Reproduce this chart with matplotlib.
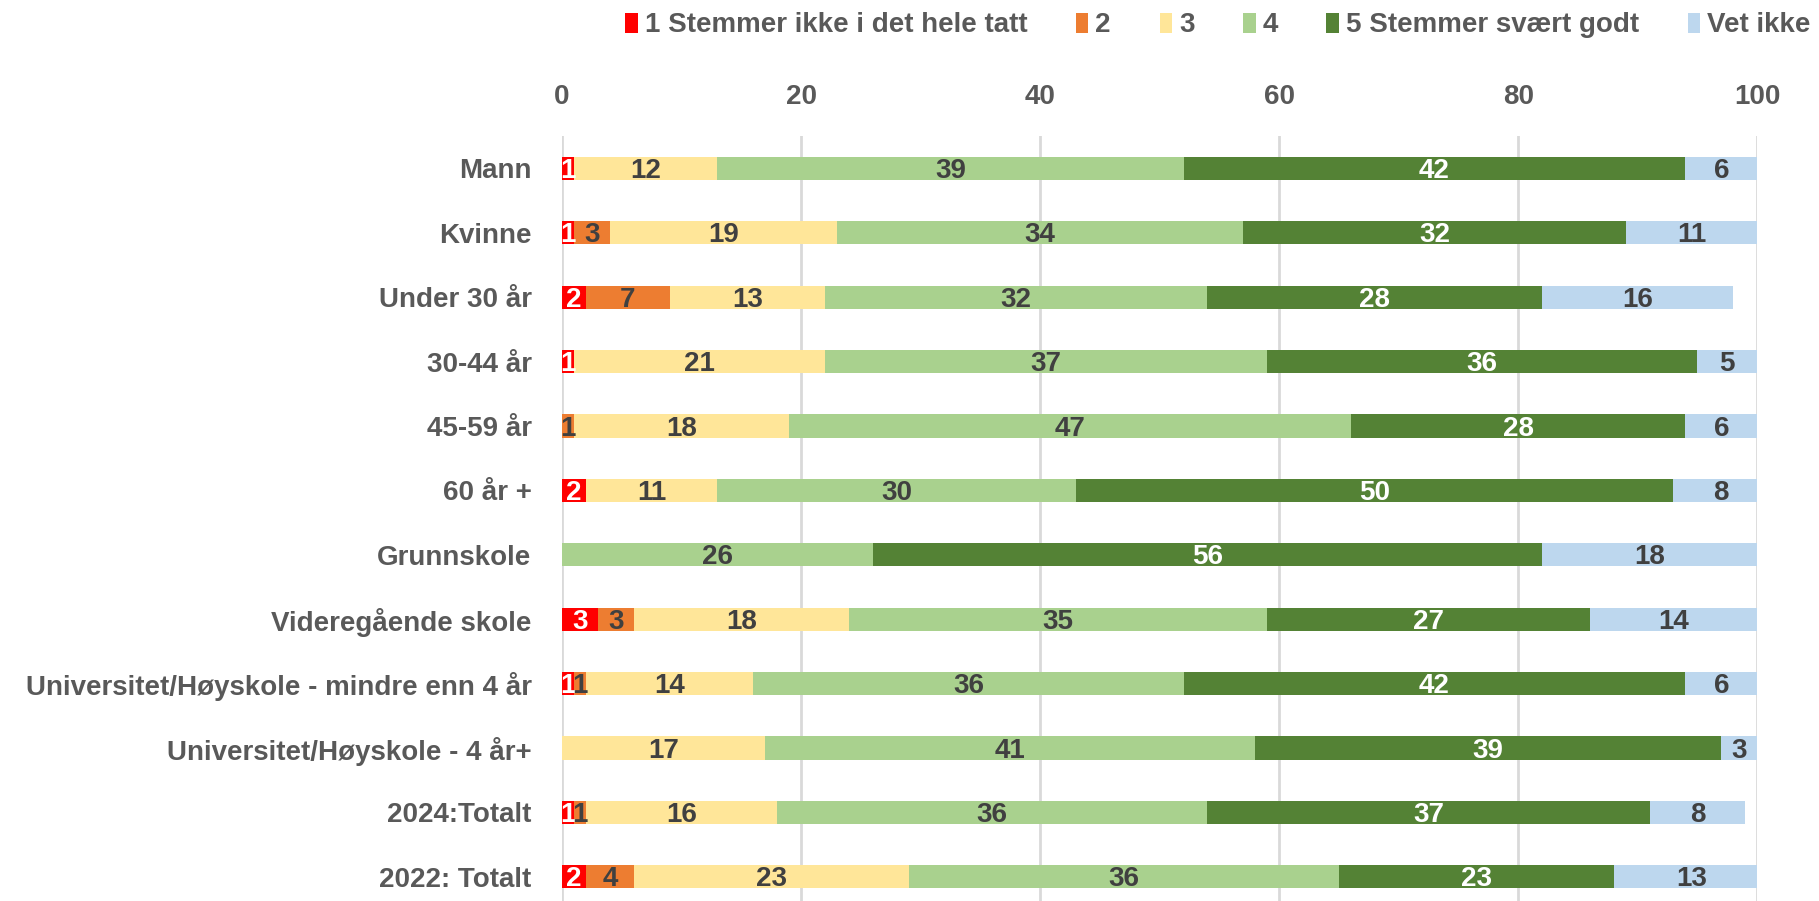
import matplotlib
matplotlib.use("Agg")
import matplotlib.pyplot as plt
from matplotlib import font_manager
import numpy as np

categories = ["Mann", "Kvinne", "Under 30 år", "30-44 år", "45-59 år", "60 år +",
              "Grunnskole", "Videregående skole",
              "Universitet/Høyskole - mindre enn 4 år",
              "Universitet/Høyskole - 4 år+", "2024:Totalt", "2022: Totalt"]

series_names = ["1 Stemmer ikke i det hele tatt", "2", "3", "4",
                "5 Stemmer svært godt", "Vet ikke"]

s1 = [1, 1, 2, 1, 0, 2, 0, 3, 1, 0, 1, 2]
s2 = [0, 3, 7, 0, 1, 0, 0, 3, 1, 0, 1, 4]
s3 = [12, 19, 13, 21, 18, 11, 0, 18, 14, 17, 16, 23]
s4 = [39, 34, 32, 37, 47, 30, 26, 35, 36, 41, 36, 36]
s5 = [42, 32, 28, 36, 28, 50, 56, 27, 42, 39, 37, 23]
s6 = [6, 11, 16, 5, 6, 8, 18, 14, 6, 3, 8, 13]

colors = ["#FF0000", "#ED7D31", "#FFE699", "#A9D18E", "#548235", "#BDD7EE"]
text_colors = ["white", "#404040", "#404040", "#404040", "white", "#404040"]

installed = {f.name for f in font_manager.fontManager.ttflist}
narrow = "Liberation Sans Narrow" in installed
main_font = "Liberation Sans Narrow" if narrow else "Liberation Sans"
fs = 26 if narrow else 20
plt.rcParams['font.family'] = [main_font, "DejaVu Sans"]
plt.rcParams['font.weight'] = 'bold'

fig = plt.figure(figsize=(18.19, 9.01), dpi=100)
ax = fig.add_axes([0.309, -0.009, 0.657, 0.858])

data = [s1, s2, s3, s4, s5, s6]
y = np.arange(len(categories))
left = np.zeros(len(categories))
handles = []
for vals, name, col, tcol in zip(data, series_names, colors, text_colors):
    vals = np.array(vals, dtype=float)
    bars = ax.barh(y, vals, left=left, height=0.36, color=col, label=name, zorder=3)
    handles.append(bars)
    for yi, l, v in zip(y, left, vals):
        if v > 0:
            ax.text(l + v / 2, yi + 0.04, str(int(v)), ha="center", va="center",
                    fontsize=fs, color=tcol, fontweight="bold", zorder=4)
    left += vals

ax.set_xlim(0, 100)
ax.set_ylim(len(categories) - 0.5, -0.5)
ax.set_yticks(y)
ax.set_yticklabels(categories, fontsize=fs, color="#595959", fontweight="bold")
ax.set_xticks([0, 20, 40, 60, 80, 100])
ax.xaxis.tick_top()
ax.tick_params(axis="x", labelsize=fs, labelcolor="#595959", length=0, pad=19)
ax.tick_params(axis="y", length=0, pad=22)
for sp in ax.spines.values():
    sp.set_visible(False)
ax.grid(axis="x", color="#D9D9D9", linewidth=2, zorder=0)

leg = fig.legend(handles=handles, loc="upper left", bbox_to_anchor=(0.330, 1.014),
                 ncol=6, frameon=False, fontsize=fs, handlelength=0.45,
                 handleheight=0.75, handletextpad=0.25, columnspacing=1.75)
for t in leg.get_texts():
    t.set_color("#595959")

fig.savefig("out.png", dpi=100)
